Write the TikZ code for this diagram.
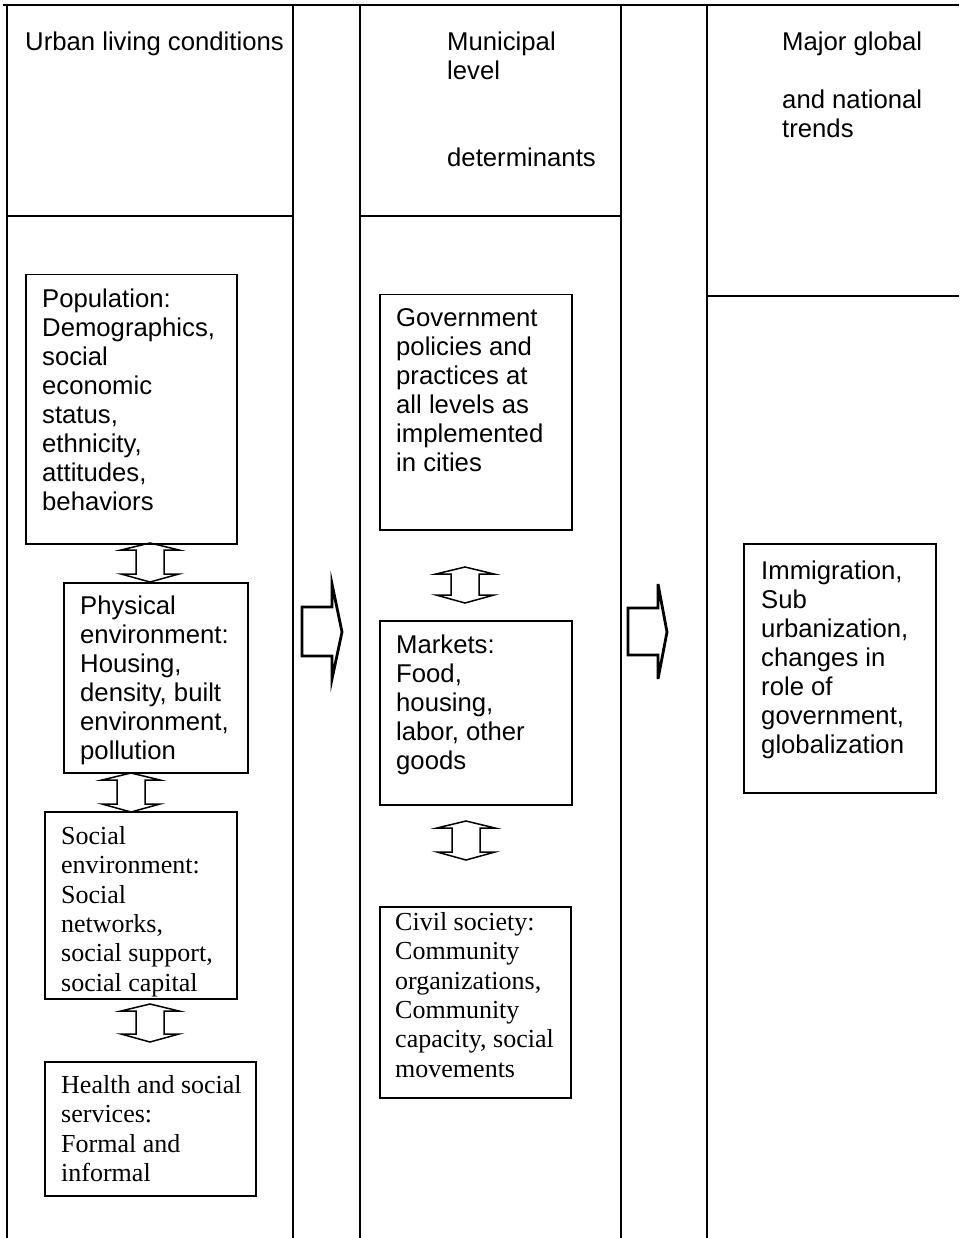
\documentclass[tikz,border=0pt]{standalone}
\usepackage{fontspec}
\setmainfont{Liberation Sans}
\newfontfamily\serifface{Liberation Serif}
\newcommand{\firststrut}{\rule{0pt}{20pt}}
\newcommand{\dblarr}[3]{%
  \draw[dblarrow] (#1,#2) -- ({#1+29},{#2+7}) -- ({#1+14},{#2+7}) -- ({#1+14},{#3-8})
    -- ({#1+29},{#3-8}) -- (#1,#3) -- ({#1-29},{#3-8}) -- ({#1-14},{#3-8})
    -- ({#1-14},{#2+7}) -- ({#1-29},{#2+7}) -- cycle;}
\tikzset{
  frame/.style={line width=1.3pt, black},
  boxshape/.style={draw, line width=1.5pt, rectangle, inner sep=0pt, anchor=north west},
  sanstext/.style={anchor=north west, inner sep=0pt, align=left, font=\fontsize{25.7}{29}\selectfont},
  seriftext/.style={anchor=north west, inner sep=0pt, align=left, font=\fontsize{26}{29.4}\serifface},
  dblarrow/.style={line width=1.5pt, line join=miter},
  bigarrow/.style={line width=2.8pt, line join=miter}
}
\begin{document}
\begin{tikzpicture}[x=1pt,y=-1pt]
\useasboundingbox (0,0) rectangle (959,1238);
% frame lines
\draw[frame] (3,5) -- (959,5);
\foreach \xx in {7,293,360,621,707} \draw[frame] (\xx,5) -- (\xx,1238);
\draw[frame] (7,216) -- (293,216);
\draw[frame] (360,216) -- (621,216);
\draw[frame] (707,296) -- (959,296);
% headers
\node[sanstext] (h1) at (25,30) {\firststrut Urban living conditions};
\node[sanstext] (h2) at (447,30) {\firststrut Municipal\\level\\\mbox{}\\\mbox{}\\determinants};
\node[sanstext] (h3) at (782,30) {\firststrut Major global\\\mbox{}\\and national\\trends};
% boxes
\node[boxshape, minimum width=211pt, minimum height=269pt] (pop) at (25,274) {};
\node[boxshape, minimum width=184pt, minimum height=190pt] (phys) at (63,582) {};
\node[boxshape, minimum width=192pt, minimum height=187pt] (soc) at (44,811) {};
\node[boxshape, minimum width=211pt, minimum height=134pt] (hlth) at (44,1061) {};
\node[boxshape, minimum width=192pt, minimum height=235pt] (gov) at (379,294) {};
\node[boxshape, minimum width=192pt, minimum height=184pt] (mkt) at (379,620) {};
\node[boxshape, minimum width=191pt, minimum height=191pt] (civ) at (379,906) {};
\node[boxshape, minimum width=192pt, minimum height=249pt] (imm) at (743,543) {};
% texts
\node[sanstext] (popt) at (42,287) {\firststrut Population:\\Demographics,\\social\\economic\\status,\\ethnicity,\\attitudes,\\behaviors};
\node[sanstext] (physt) at (80,594) {\firststrut Physical\\environment:\\Housing,\\density, built\\environment,\\pollution};
\node[seriftext] (soct) at (61,824) {\firststrut Social\\environment:\\Social\\networks,\\social support,\\social capital};
\node[seriftext] (hlt) at (61,1073) {\firststrut Health and social\\services:\\Formal and\\informal};
\node[sanstext] (govt) at (396,306) {\firststrut Government\\policies and\\practices at\\all levels as\\implemented\\in cities};
\node[sanstext] (mktt) at (396,633) {\firststrut Markets:\\Food,\\housing,\\labor, other\\goods};
\node[seriftext] (civt) at (395,910) {\firststrut Civil society:\\Community\\organizations,\\Community\\capacity, social\\movements};
\node[sanstext] (immt) at (761,559) {\firststrut Immigration,\\Sub\\urbanization,\\changes in\\role of\\government,\\globalization};
% double arrows
\dblarr{150}{543}{582}
\dblarr{131}{773}{812}
\dblarr{150}{1004}{1042}
\dblarr{465}{567}{603}
\dblarr{466}{821}{860}
% big arrows
\draw[bigarrow] (302,607) -- (332,607) -- (332,584) -- (342,632) -- (332,679) -- (332,656) -- (302,656) -- cycle;
\draw[bigarrow] (628,608) -- (658,608) -- (658,584) -- (667,632) -- (658,679) -- (658,655) -- (628,655) -- cycle;
\end{tikzpicture}
\end{document}
